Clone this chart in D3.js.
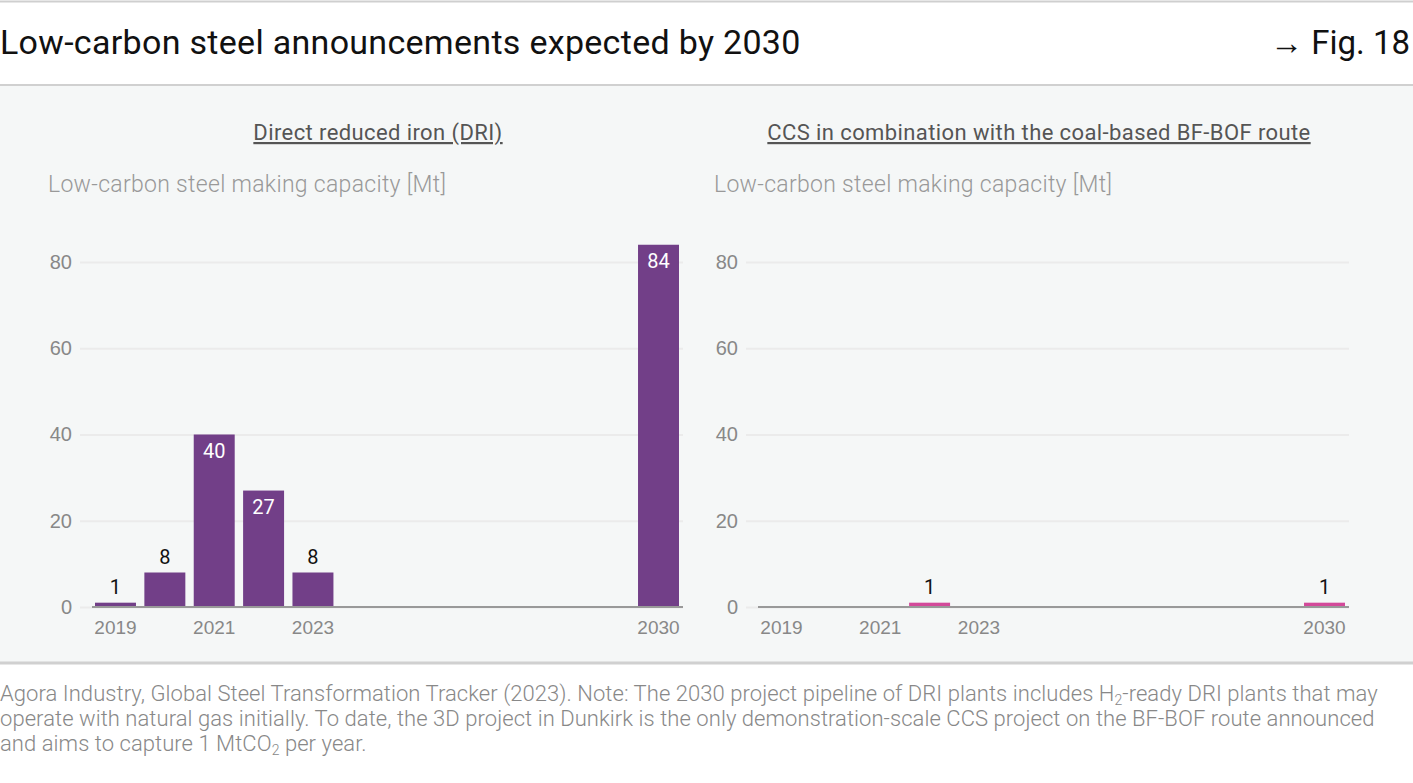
<!DOCTYPE html>
<html>
<head>
<meta charset="utf-8">
<script src="https://cdn.jsdelivr.net/npm/d3@7"></script>
<style>
  body { margin: 0; background: #fff; }
  svg { display: block; font-family: Roboto, "Noto Sans", sans-serif; }
</style>
</head>
<body>
<svg id="chart" width="1413" height="783"></svg>
<script>
// data
var years = ["2019", "2020", "2021", "2022", "2023", "2024", "2025", "2026", "2027", "2028", "2029", "2030"];
var driValues = [1, 8, 40, 27, 8, null, null, null, null, null, null, 84];
var ccsValues = [null, null, null, 1, null, null, null, null, null, null, null, 1];
var yTicks = [0, 20, 40, 60, 80];
var xTickLabels = ["2019", "2021", "2023", "2030"];

var title = "Low-carbon steel announcements expected by 2030";
var figLabel = "\u2192 Fig. 18";
var axisTitle = "Low-carbon steel making capacity [Mt]";

var svg = d3.select("#chart");

// frame
svg.append("line").attr("x1", 0).attr("x2", 1413).attr("y1", 1.5).attr("y2", 1.5)
    .attr("stroke", "#cfcfcf").attr("stroke-width", 2);
svg.append("text").attr("x", 0).attr("y", 54)
    .attr("font-size", 34).attr("letter-spacing", 0.3).attr("fill", "#111").text(title);
svg.append("text").attr("x", 1410).attr("y", 54).attr("text-anchor", "end")
    .attr("font-size", 33).attr("fill", "#111").text(figLabel);
svg.append("rect").attr("x", 0).attr("y", 86).attr("width", 1413).attr("height", 577)
    .attr("fill", "#f5f7f7");
svg.append("line").attr("x1", 0).attr("x2", 1413).attr("y1", 85).attr("y2", 85)
    .attr("stroke", "#d0d0d0").attr("stroke-width", 2);
svg.append("line").attr("x1", 0).attr("x2", 1413).attr("y1", 663).attr("y2", 663)
    .attr("stroke", "#d0d0d0").attr("stroke-width", 3);

var y = d3.scaleLinear().domain([0, 80]).range([607, 262]);

function drawPanel(dx, panelTitle, titleX, values, color) {
    var g = svg.append("g").attr("transform", "translate(" + dx + ",0)");

    var x = d3.scaleBand().domain(years).range([95, 679]).paddingInner(0.17).paddingOuter(0);

    g.append("text").attr("x", titleX).attr("y", 140).attr("text-anchor", "middle")
        .attr("font-size", 22).attr("letter-spacing", 0.4)
        .attr("fill", "#555").attr("text-decoration", "underline")
        .text(panelTitle);
    g.append("text").attr("x", 48).attr("y", 192)
        .attr("font-size", 23).attr("letter-spacing", 0.3)
        .attr("font-weight", 300).attr("fill", "#999")
        .text(axisTitle);

    // gridlines + y labels
    var yAxis = g.append("g").attr("transform", "translate(80,0)")
        .call(d3.axisLeft(y).tickValues(yTicks).tickSize(-603).tickPadding(8));
    yAxis.select(".domain").remove();
    yAxis.selectAll(".tick line").attr("stroke", "#ebebeb").attr("stroke-width", 2);
    yAxis.selectAll(".tick text").attr("font-size", 20).attr("font-weight", 300)
        .attr("fill", "#888").attr("font-family", null);

    var data = years.map(function(d, i) { return {year: d, value: values[i]}; })
        .filter(function(d) { return d.value != null; });

    g.selectAll("rect.bar").data(data).enter().append("rect")
        .attr("class", "bar")
        .attr("x", function(d) { return x(d.year); })
        .attr("y", function(d) { return y(d.value); })
        .attr("width", x.bandwidth())
        .attr("height", function(d) { return y(0) - y(d.value); })
        .attr("fill", color);

    // baseline
    g.append("line").attr("x1", 92).attr("x2", 683).attr("y1", y(0)).attr("y2", y(0))
        .attr("stroke", "#999").attr("stroke-width", 2);

    // x labels
    var xAxis = g.append("g").attr("transform", "translate(0," + y(0) + ")")
        .call(d3.axisBottom(x).tickValues(xTickLabels).tickSize(0).tickPadding(14));
    xAxis.select(".domain").remove();
    xAxis.selectAll(".tick text").attr("font-size", 19).attr("font-weight", 300)
        .attr("fill", "#888").attr("font-family", null);

    // value labels
    g.selectAll("text.val").data(data).enter().append("text")
        .attr("class", "val")
        .attr("x", function(d) { return x(d.year) + x.bandwidth() / 2; })
        .attr("y", function(d) { return d.value >= 20 ? y(d.value) + 23 : y(d.value) - 9; })
        .attr("text-anchor", "middle")
        .attr("font-size", 20)
        .attr("fill", function(d) { return d.value >= 20 ? "#fff" : "#111"; })
        .text(function(d) { return d.value; });
}

drawPanel(0, "Direct reduced iron (DRI)", 378, driValues, "#723f88");
drawPanel(666, "CCS in combination with the coal-based BF-BOF route", 373, ccsValues, "#d3499a");

// footer
var footer = svg.append("text").attr("font-size", 22).attr("letter-spacing", 0.06)
    .attr("font-weight", 300).attr("fill", "#888");
footer.append("tspan").attr("x", 0).attr("y", 701)
    .text("Agora Industry, Global Steel Transformation Tracker (2023). Note: The 2030 project pipeline of DRI plants includes H")
  .append("tspan").attr("font-size", 14).attr("dy", 4).text("2");
footer.append("tspan").attr("dy", -4).text("-ready DRI plants that may");
footer.append("tspan").attr("x", 0).attr("y", 726)
    .text("operate with natural gas initially. To date, the 3D project in Dunkirk is the only demonstration-scale CCS project on the BF-BOF route announced");
footer.append("tspan").attr("x", 0).attr("y", 751).text("and aims to capture 1 MtCO");
footer.append("tspan").attr("font-size", 14).attr("dy", 4).text("2");
footer.append("tspan").attr("dy", -4).text(" per year.");
</script>
</body>
</html>
